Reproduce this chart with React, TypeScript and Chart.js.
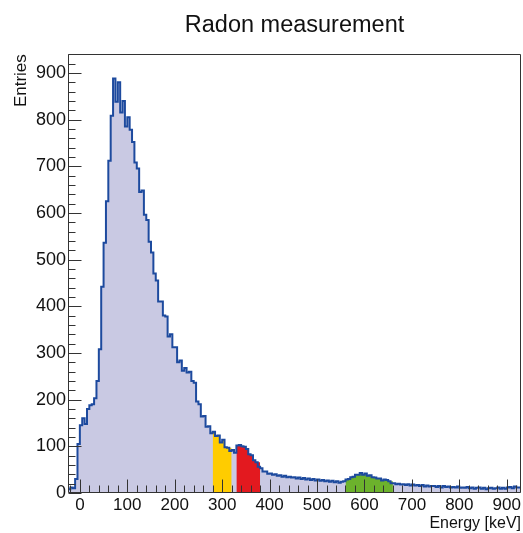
import React, { useEffect, useRef } from "react";
import { Chart, registerables } from "chart.js";

Chart.register(...registerables);

const TITLE = "Radon measurement";
const X_TITLE = "Energy [keV]";
const Y_TITLE = "Entries";

// Histogram binning: low edge of first bin and bin width (keV)
const BIN_START = -25;
const BIN_WIDTH = 5;

// Entries per 5 keV bin, low edges -25, -20, ..., 925
const COUNTS = [
  5, 8, 12, 10, 30, 105, 145, 160, 148, 180,
  188, 190, 203, 240, 308, 442, 536, 625, 712, 808,
  888, 838, 880, 815, 840, 785, 805, 778, 752, 708,
  695, 645, 648, 596, 585, 538, 515, 470, 455, 410,
  410, 380, 378, 335, 340, 312, 312, 280, 284, 262,
  268, 258, 260, 240, 236, 196, 190, 164, 165, 142,
  143, 128, 131, 122, 123, 108, 114, 98, 97, 90,
  92, 86, 102, 103, 100, 99, 94, 83, 81, 70,
  66, 56, 53, 46, 46, 41, 42, 39, 40, 37,
  38, 35, 37, 34, 35, 33, 34, 31, 33, 30,
  32, 29, 31, 28, 30, 27, 29, 26, 28, 25,
  27, 24, 26, 23, 25, 22, 24, 25, 29, 30,
  34, 35, 39, 39, 43, 39, 42, 37, 38, 34,
  33, 31, 31, 27, 29, 28, 25, 21, 21, 19,
  20, 18, 19, 17, 19, 16, 18, 16, 17, 15,
  17, 14, 16, 14, 15, 15, 13, 15, 12, 15,
  13, 14, 12, 13, 12, 14, 11, 12, 11, 13,
  10, 12, 9, 11, 12, 9, 11, 8, 10, 11,
  9, 10, 12, 9, 11, 9, 12, 13, 10, 14,
  12,
];

// Highlighted energy windows (keV)
const GOLD_RANGE = [280, 320];
const RED_RANGE = [330, 380];
const GREEN_RANGE = [560, 660];

// Axes
const X_MIN = -25;
const X_MAX = 930;
const Y_MIN = 0;
const Y_MAX = 940;
const X_TICKS = [0, 100, 200, 300, 400, 500, 600, 700, 800, 900];
const Y_TICKS = [0, 100, 200, 300, 400, 500, 600, 700, 800, 900];
const MINOR_STEP = 20;
const MAJOR_STEP = 100;

const FONT = "'Liberation Sans', Arial, Helvetica, sans-serif";
const TEXT = "#111111";
const LINE_BLUE = "#1d4a9e";
const FILL_LAVENDER = "#c9c9e3";
const GOLD = "#ffcc00";
const RED = "#e3191f";
const GREEN = "#6cb22c";

function histPoints() {
  const pts = COUNTS.map((c, i) => ({ x: BIN_START + i * BIN_WIDTH, y: c }));
  pts.push({ x: BIN_START + COUNTS.length * BIN_WIDTH, y: COUNTS[COUNTS.length - 1] });
  return pts;
}

function rangePoints(range: number[]) {
  const [lo, hi] = range;
  const pts: { x: number; y: number }[] = [];
  let last = 0;
  COUNTS.forEach((c, i) => {
    const e = BIN_START + i * BIN_WIDTH;
    if (e >= lo && e < hi) {
      pts.push({ x: e, y: c });
      last = c;
    }
  });
  pts.push({ x: hi, y: last });
  return pts;
}

const framePlugin = {
  id: "rootFrame",
  afterDatasetsDraw(chart: any) {
    const { ctx, chartArea, scales } = chart;
    const { left, right, top, bottom } = chartArea;
    const xs = scales.x;
    const ys = scales.y;
    const L = Math.round(left) + 0.5;
    const R = Math.round(right) - 0.5;
    const T = Math.round(top) + 0.5;
    const B = Math.round(bottom) - 0.5;
    ctx.save();
    ctx.lineWidth = 1;
    ctx.strokeStyle = "#333";
    ctx.beginPath();
    ctx.moveTo(L, T);
    ctx.lineTo(R, T);
    ctx.lineTo(R, B);
    ctx.lineTo(L, B);
    ctx.closePath();
    ctx.stroke();
    ctx.beginPath();
    const x0 = Math.ceil(X_MIN / MINOR_STEP) * MINOR_STEP;
    for (let v = x0; v <= X_MAX; v += MINOR_STEP) {
      const px = Math.round(xs.getPixelForValue(v)) + 0.5;
      const len = v % MAJOR_STEP === 0 ? 13 : 7;
      ctx.moveTo(px, B);
      ctx.lineTo(px, B - len);
    }
    for (let v = Y_MIN; v <= Y_MAX; v += MINOR_STEP) {
      const py = Math.round(ys.getPixelForValue(v)) + 0.5;
      const len = v % MAJOR_STEP === 0 ? 13 : 7;
      ctx.moveTo(L, py);
      ctx.lineTo(L + len, py);
    }
    ctx.stroke();
    ctx.restore();
  },
};

export default function App() {
  const ref = useRef<HTMLCanvasElement>(null);

  useEffect(() => {
    if (!ref.current) return;
    const hist = histPoints();
    const common = {
      stepped: "after" as const,
      pointRadius: 0,
      pointHoverRadius: 0,
      tension: 0,
    };
    const chart = new Chart(ref.current, {
      type: "line",
      data: {
        datasets: [
          {
            ...common,
            data: hist,
            borderColor: LINE_BLUE,
            borderWidth: 2,
            fill: false,
          },
          {
            ...common,
            data: rangePoints(GOLD_RANGE),
            borderColor: "rgba(0,0,0,0)",
            borderWidth: 0,
            backgroundColor: GOLD,
            fill: "origin",
          },
          {
            ...common,
            data: rangePoints(RED_RANGE),
            borderColor: "rgba(0,0,0,0)",
            borderWidth: 0,
            backgroundColor: RED,
            fill: "origin",
          },
          {
            ...common,
            data: rangePoints(GREEN_RANGE),
            borderColor: "rgba(0,0,0,0)",
            borderWidth: 0,
            backgroundColor: GREEN,
            fill: "origin",
          },
          {
            ...common,
            data: hist,
            borderColor: "rgba(0,0,0,0)",
            borderWidth: 0,
            backgroundColor: FILL_LAVENDER,
            fill: "origin",
          },
        ],
      },
      options: {
        animation: false,
        responsive: false,
        devicePixelRatio: 1,
        events: [],
        layout: { padding: { left: 0, right: 2, top: 0, bottom: 0 } },
        plugins: {
          legend: { display: false },
          tooltip: { enabled: false },
          title: {
            display: true,
            text: TITLE,
            fullSize: false,
            color: TEXT,
            font: { family: FONT, size: 23.5, weight: "normal" },
            padding: { top: 11, bottom: 15 },
          },
        },
        scales: {
          x: {
            type: "linear",
            min: X_MIN,
            max: X_MAX,
            afterBuildTicks: (s: any) => {
              s.ticks = X_TICKS.map((v) => ({ value: v }));
            },
            afterFit: (s: any) => {
              s.height = 40;
              s.paddingLeft = 0;
              s.paddingRight = 0;
            },
            grid: { display: false, drawTicks: false },
            border: { display: false },
            ticks: {
              font: { family: FONT, size: 17 },
              color: TEXT,
              padding: 2,
              maxRotation: 0,
              autoSkip: false,
            },
            title: {
              display: true,
              text: X_TITLE,
              align: "end",
              color: TEXT,
              font: { family: FONT, size: 16 },
              padding: { top: 0, bottom: 0 },
            },
          },
          y: {
            type: "linear",
            min: Y_MIN,
            max: Y_MAX,
            afterBuildTicks: (s: any) => {
              s.ticks = Y_TICKS.map((v) => ({ value: v }));
            },
            afterFit: (s: any) => {
              s.width = 68;
              s.paddingTop = 0;
              s.paddingBottom = 0;
            },
            grid: { display: false, drawTicks: false },
            border: { display: false },
            ticks: {
              font: { family: FONT, size: 18 },
              color: TEXT,
              padding: 2,
              autoSkip: false,
            },
            title: {
              display: true,
              text: Y_TITLE,
              align: "end",
              color: TEXT,
              font: { family: FONT, size: 17 },
              padding: { top: 11, bottom: 0 },
            },
          },
        },
      },
      plugins: [framePlugin],
    } as any);
    return () => chart.destroy();
  }, []);

  return (
    <div style={{ position: "fixed", left: 0, top: 0, width: 523, height: 533, background: "#fff" }}>
      <canvas ref={ref} width={523} height={533} style={{ display: "block" }} />
    </div>
  );
}
